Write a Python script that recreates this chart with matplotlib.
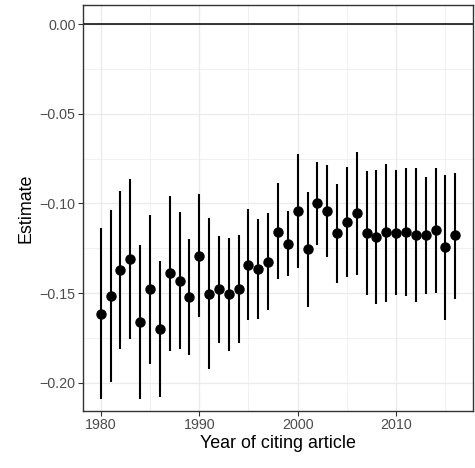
import numpy as np
import matplotlib
matplotlib.use("Agg")
import matplotlib.pyplot as plt
from matplotlib.ticker import MultipleLocator

plt.rcParams["font.family"] = ["Liberation Sans", "DejaVu Sans"]

years = np.arange(1980, 2017)
estimate = [-0.1617, -0.1516, -0.1371, -0.1310, -0.1661, -0.1479, -0.1700, -0.1390,
            -0.1431, -0.1520, -0.1291, -0.1503, -0.1479, -0.1505, -0.1477, -0.1341,
            -0.1364, -0.1325, -0.1158, -0.1225, -0.1042, -0.1256, -0.0999, -0.1042,
            -0.1167, -0.1105, -0.1055, -0.1167, -0.1189, -0.1161, -0.1163, -0.1159,
            -0.1174, -0.1178, -0.1148, -0.1245, -0.1178]
upper = [-0.1139, -0.1037, -0.0929, -0.0864, -0.1230, -0.1063, -0.1319, -0.0960,
         -0.1048, -0.1198, -0.0949, -0.1083, -0.1180, -0.1195, -0.1174, -0.1033,
         -0.1085, -0.1054, -0.0888, -0.1042, -0.0726, -0.0938, -0.0771, -0.0786,
         -0.0892, -0.0799, -0.0715, -0.0818, -0.0816, -0.0780, -0.0816, -0.0801,
         -0.0801, -0.0851, -0.0803, -0.0842, -0.0829]
lower = [-0.2092, -0.1997, -0.1813, -0.1756, -0.2092, -0.1895, -0.2081, -0.1823,
         -0.1813, -0.1845, -0.1631, -0.1925, -0.1780, -0.1821, -0.1780, -0.1650,
         -0.1646, -0.1594, -0.1423, -0.1406, -0.1360, -0.1576, -0.1232, -0.1297,
         -0.1442, -0.1412, -0.1399, -0.1512, -0.1562, -0.1548, -0.1512, -0.1516,
         -0.1548, -0.1503, -0.1498, -0.1650, -0.1531]

fig = plt.figure(figsize=(4.75, 4.68), dpi=100)
ax = fig.add_axes([0.1747, 0.1218, 0.8211, 0.8675])

ax.axhline(0, color="black", lw=1.1, zorder=2)
ax.vlines(years, lower, upper, color="black", lw=1.5, zorder=3)
ax.plot(years, estimate, "o", color="black", ms=6.5, zorder=4)

ax.set_xlim(1978.2, 2017.8)
ax.set_ylim(-0.2157, 0.0106)
ax.xaxis.set_major_locator(MultipleLocator(10))
ax.xaxis.set_minor_locator(MultipleLocator(5))
ax.yaxis.set_major_locator(MultipleLocator(0.05))
ax.yaxis.set_minor_locator(MultipleLocator(0.025))
ax.yaxis.set_major_formatter(plt.FuncFormatter(lambda v, p: f"{v:.2f}".replace("-", "\u2212")))

ax.grid(which="major", color="#EBEBEB", lw=1.0, zorder=0)
ax.grid(which="minor", color="#EBEBEB", lw=0.5, zorder=0)
ax.set_axisbelow(True)
for s in ax.spines.values():
    s.set_color("#333333")
    s.set_linewidth(1.0)
ax.tick_params(which="major", length=3.3, width=0.8, color="#333333",
               labelcolor="#4D4D4D", labelsize=10.3, pad=2)
ax.tick_params(which="minor", length=0)

ax.set_xlabel("Year of citing article", fontsize=12.9, labelpad=2)
ax.set_ylabel("Estimate", fontsize=12.9, labelpad=4)

fig.savefig("out.png", dpi=100)
